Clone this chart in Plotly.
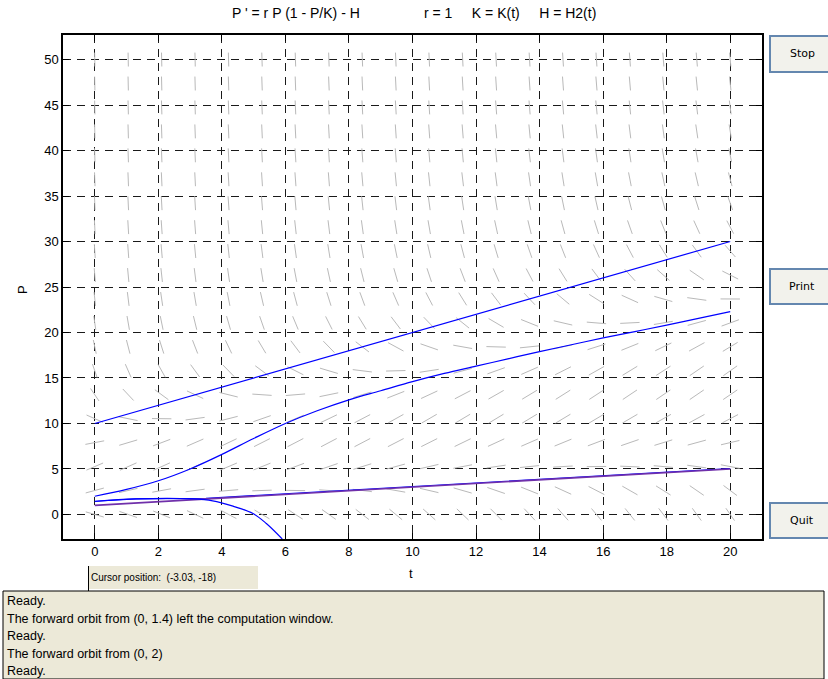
import numpy as np
import plotly.graph_objects as go

# ---------------- data ----------------
# model parameters: P' = r P (1 - P/K(t)) - H2(t)
r_val = 1.0
K_t = [0, 20]
K_vals = [10, 30]          # K(t), drawn as straight line
H_t = [0, 20]
H_vals = [1, 5]            # H2(t), drawn as straight line

# direction-field sample points (dfield window 0..20 x 0..50, 20 x 20)
field_t = np.linspace(0, 20, 20)
field_P = np.linspace(0, 50, 20)

# orbit from (0, 2)
orbit2_t = [0, 1, 2, 3, 4, 5, 6, 7, 8, 9, 10, 11, 12, 13, 14, 15, 16, 17, 18, 19, 20]
orbit2_P = [2.0, 2.75, 3.7, 5.0, 6.6, 8.35, 10.0, 11.4, 12.6, 13.6, 14.6, 15.5,
            16.3, 17.1, 17.9, 18.65, 19.4, 20.1, 20.8, 21.55, 22.3]

# orbit from (0, 1.4) that leaves the window
orbit14_t = [0, 1.3, 3.08, 3.71, 4.35, 4.98, 5.4, 5.9]
orbit14_P = [1.42, 1.7, 1.7, 1.5, 0.91, 0.1, -1.0, -2.7]

# blue orbit running along H2 line
orbitH_t = [0, 1.3, 3.5, 20]
orbitH_P = [1.45, 1.7, 1.78, 5.05]

x_ticks = list(range(0, 21, 2))
y_ticks = list(range(0, 51, 5))

title_left = "P ' = r P (1 - P/K) - H"
title_right = ("r = 1&nbsp;&nbsp;&nbsp;&nbsp;&nbsp;K = K(t)"
               "&nbsp;&nbsp;&nbsp;&nbsp;&nbsp;H = H2(t)")
messages = ["Ready.",
            "The forward orbit from (0, 1.4) left the computation window.",
            "Ready.",
            "The forward orbit from (0, 2)",
            "Ready."]
cursor_text = "Cursor position:&nbsp;&nbsp;(-3.03, -18)"

# ---------------- figure geometry ----------------
W, Hh = 828, 679
L, R, T, B = 63, 66, 35, 140
pw, ph = W - L - R, Hh - T - B
x_range = [-1, 21]
y_range = [-2.7, 52.7]


def px(x):
    return (x - L) / pw


def py(y):
    return (Hh - B - y) / ph


# ---------------- direction field ----------------
def K(t):
    return np.interp(t, K_t, K_vals)


def Hf(t):
    return np.interp(t, H_t, H_vals)


dt_cell = field_t[1] - field_t[0]
dP_cell = field_P[1] - field_P[0]
seg_x, seg_y = [], []
for t in field_t:
    for P in field_P:
        s = r_val * P * (1 - P / K(t)) - Hf(t)
        a = 1.0 / dt_cell
        b = s / dP_cell
        n = np.hypot(a, b)
        hx = 0.29 / n
        hy = 0.29 * s / n
        seg_x += [float(t - hx), float(t + hx), None]
        seg_y += [float(P - hy), float(P + hy), None]

fig = go.Figure()
fig.add_trace(go.Scatter(x=seg_x, y=seg_y, mode="lines",
                         line=dict(color="rgb(185,185,185)", width=1),
                         hoverinfo="skip"))
fig.add_trace(go.Scatter(x=K_t, y=K_vals, mode="lines",
                         line=dict(color="rgb(0,0,255)", width=1.2)))
fig.add_trace(go.Scatter(x=orbit2_t, y=orbit2_P, mode="lines", line_shape="spline",
                         line=dict(color="rgb(0,0,255)", width=1.2)))
fig.add_trace(go.Scatter(x=orbitH_t, y=orbitH_P, mode="lines",
                         line=dict(color="rgb(0,0,255)", width=1.2)))
fig.add_trace(go.Scatter(x=H_t, y=H_vals, mode="lines",
                         line=dict(color="rgb(112,48,170)", width=1.6)))
fig.add_trace(go.Scatter(x=orbit14_t, y=orbit14_P, mode="lines", line_shape="spline",
                         line=dict(color="rgb(0,0,255)", width=1.2)))

axis_common = dict(showgrid=True, gridcolor="#1a1a1a", gridwidth=1, griddash="8px,6px",
                   zeroline=False, showline=True, linecolor="black", linewidth=1.5,
                   mirror="ticks", ticks="inside", ticklen=6, tickcolor="black",
                   tickfont=dict(family="Arial, Liberation Sans", size=13, color="black"))

fig.update_xaxes(range=x_range, tickvals=x_ticks, ticktext=[str(v) for v in x_ticks],
                 **axis_common)
fig.update_yaxes(range=y_range, tickvals=y_ticks, ticktext=[str(v) for v in y_ticks],
                 **axis_common)

shapes = []
annots = []
font_base = "Arial, Liberation Sans"


def note(x, y, text, size=11, xanchor="center", family=font_base, angle=0):
    annots.append(dict(x=px(x), y=py(y), xref="paper", yref="paper", text=text,
                       showarrow=False, xanchor=xanchor, yanchor="middle",
                       textangle=angle,
                       font=dict(family=family, size=size, color="black")))


# titles
note(296, 13, title_left, 14)
note(510, 13, title_right, 14)
# axis labels
note(411, 573, "t", 13)
note(22, 290, "P", 13, angle=-90)

# buttons
for label, y0, y1 in [("Stop", 36, 72), ("Print", 269, 304), ("Quit", 503, 538)]:
    shapes.append(dict(type="rect", xref="paper", yref="paper",
                       x0=px(770), x1=px(832), y0=py(y1), y1=py(y0),
                       fillcolor="rgb(242,242,236)",
                       line=dict(color="rgb(100,135,175)", width=2), layer="above"))
    note(802, (y0 + y1) / 2, label, 11, family="Tahoma, DejaVu Sans, Arial")

# cursor box
shapes.append(dict(type="rect", xref="paper", yref="paper",
                   x0=px(88), x1=px(258), y0=py(589), y1=py(566),
                   fillcolor="rgb(236,233,216)", line=dict(width=0)))
shapes.append(dict(type="line", xref="paper", yref="paper",
                   x0=px(88.5), x1=px(88.5), y0=py(591), y1=py(566),
                   line=dict(color="black", width=1)))
note(89, 577, cursor_text, 10, xanchor="left")

# message box
shapes.append(dict(type="rect", xref="paper", yref="paper",
                   x0=px(3), x1=px(824), y0=py(679), y1=py(591),
                   fillcolor="rgb(236,233,216)", line=dict(color="black", width=1)))
for i, msg in enumerate(messages):
    yy = [601, 619, 636, 654, 671][i]
    note(5, yy, msg, 12.5, xanchor="left")

fig.update_layout(width=W, height=Hh, margin=dict(l=L, r=R, t=T, b=B),
                  paper_bgcolor="white", plot_bgcolor="white", showlegend=False,
                  shapes=shapes, annotations=annots)

fig.write_html("out.html")
